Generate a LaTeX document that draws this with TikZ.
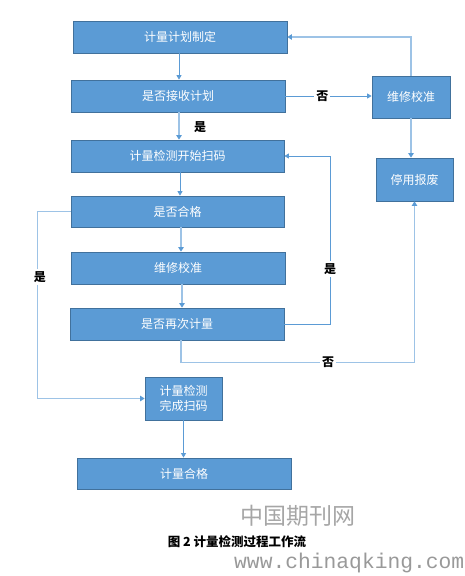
\documentclass[tikz,border=0pt]{standalone}
\usepackage{fontspec}
\setmainfont{Noto Sans CJK SC}
\newfontfamily\wmono{Liberation Mono}
\usetikzlibrary{arrows.meta,calc}
\definecolor{boxfill}{HTML}{5B9BD5}
\definecolor{boxline}{HTML}{41719C}
\definecolor{linedark}{HTML}{5B9BD5}
\definecolor{linelight}{HTML}{9DC3E6}
\tikzset{
  box/.style={draw=boxline, line width=0.8pt, fill=boxfill, text=white, font=\fontsize{12}{15}\selectfont, align=center, inner sep=0pt},
  arr/.style={draw=linedark, line width=0.8pt, -{Triangle[width=5pt,length=4.5pt]}},
  arrl/.style={draw=linelight, line width=1.4pt, -{Triangle[width=5.5pt,length=4.5pt,color=linedark]}},
  lbl/.style={font=\bfseries\fontsize{12}{14}\selectfont, fill=white, inner sep=2pt},
}
\begin{document}
\begin{tikzpicture}[x=1pt,y=-1pt]
\useasboundingbox (0,0) rectangle (465,576);
\node[box, minimum width=214pt, minimum height=32pt] (b1) at (180,37) {计量计划制定};
\node[box, minimum width=214pt, minimum height=32pt] (b2) at (178,96) {是否接收计划};
\node[box, minimum width=213pt, minimum height=32pt] (b3) at (177.5,156) {计量检测开始扫码};
\node[box, minimum width=213pt, minimum height=31pt] (b4) at (177.5,211.5) {是否合格};
\node[box, minimum width=214pt, minimum height=32pt] (b5) at (178,268) {维修校准};
\node[box, minimum width=214pt, minimum height=32pt] (b6) at (177,324) {是否再次计量};
\node[box, minimum width=77pt, minimum height=43pt] (b7) at (183.5,398.5) {计量检测\\完成扫码};
\node[box, minimum width=214pt, minimum height=31pt] (b8) at (184,473.5) {计量合格};
\node[box, minimum width=78pt, minimum height=42pt] (r1) at (411,97) {维修校准};
\node[box, minimum width=77pt, minimum height=43pt] (r2) at (414.5,179.5) {停用报废};

\draw[arr] (b1.south -| 179,0) -- (b2.north -| 179,0);
\draw[arr] (b2.east) -- (b2.east -| r1.west) node[lbl, pos=0.43] {否};
\draw[arrl] (r1.north) |- (b1.east);
\draw[arrl] (r1.south) -- (r1.south |- r2.north);
\draw[arrl] (b2.south -| 179,0) -- (b3.north -| 179,0);
\node[lbl, fill=none] (y1) at (200,127) {是};
\draw[arr] (b3.south -| 180,0) -- (b4.north -| 180,0);
\draw[arrl] (b4.south -| 181,0) -- (b5.north -| 181,0);
\draw[arrl] (b5.south -| 182,0) -- (b6.north -| 182,0);
\draw[arrl] (b4.west) -- ++(-33,0) coordinate (c1) |- (b7.west);
\node[lbl] (y2) at (40,277) {是};
\draw[arr] (b6.east) -- ++(46,0) coordinate (c2) |- (b3.east);
\node[lbl] (y3) at (330,269) {是};
\draw[arrl] ([xshift=4pt]b6.south) -- ++(0,22) coordinate (c3) -| (r2.south);
\node[lbl] (n2) at (328,362) {否};
\draw[arr] (b7.south) -- (b7.south |- b8.north);

\node[font=\fontsize{23}{26}\selectfont, text=black!35] (wm1) at (298,516) {中国期刊网};
\node[font=\bfseries\fontsize{12.5}{15}\selectfont] (cap) at (237,542) {图 2 计量检测过程工作流};
\node[font=\wmono\fontsize{21.3}{23}\selectfont, text=black!40, anchor=west, inner sep=0pt] (wm2) at (234,563) {www.chinaqking.com};
\end{tikzpicture}
\end{document}
